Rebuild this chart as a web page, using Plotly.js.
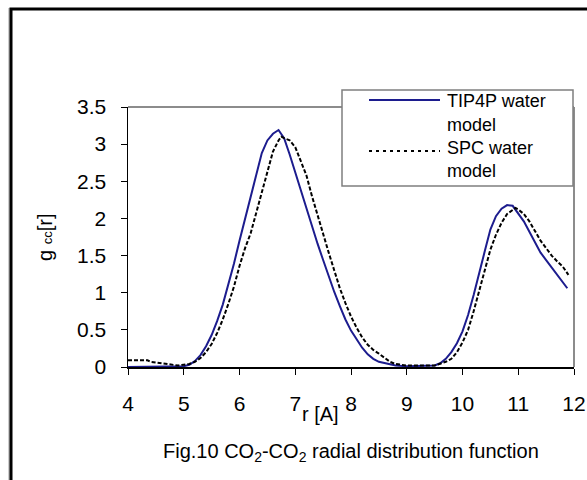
<!DOCTYPE html>
<html>
<head>
<meta charset="utf-8">
<script src="https://cdn.plot.ly/plotly-3.0.1.min.js"></script>
<style>
  html, body { margin: 0; padding: 0; background: #ffffff; }
  #chart { width: 587px; height: 480px; }
</style>
</head>
<body>
<div id="chart"></div>
<script>
// ---- data ----
const seriesNames = ["TIP4P water<br>model", "SPC water<br>model"];

const tip4pR = [4.0, 4.5, 4.9, 5.0, 5.1, 5.2, 5.3, 5.4, 5.5, 5.6, 5.7, 5.8, 5.9, 6.0, 6.1, 6.2, 6.3, 6.4, 6.5, 6.6, 6.7, 6.75, 6.8, 6.9, 7.0, 7.1, 7.2, 7.3, 7.4, 7.5, 7.6, 7.7, 7.8, 7.9, 8.0, 8.1, 8.2, 8.3, 8.4, 8.5, 8.6, 8.7, 8.8, 9.0, 9.2, 9.4, 9.5, 9.6, 9.7, 9.8, 9.9, 10.0, 10.1, 10.2, 10.3, 10.4, 10.5, 10.6, 10.7, 10.8, 10.9, 11.0, 11.1, 11.2, 11.3, 11.4, 11.5, 11.6, 11.7, 11.8, 11.88];
const tip4pG = [0.0, 0.0, 0.0, 0.01, 0.03, 0.08, 0.16, 0.28, 0.43, 0.62, 0.84, 1.10, 1.39, 1.70, 2.00, 2.32, 2.62, 2.88, 3.05, 3.14, 3.19, 3.14, 3.08, 2.86, 2.62, 2.36, 2.14, 1.90, 1.66, 1.44, 1.22, 1.01, 0.82, 0.64, 0.49, 0.37, 0.26, 0.17, 0.11, 0.07, 0.05, 0.04, 0.02, 0.01, 0.01, 0.01, 0.02, 0.05, 0.11, 0.20, 0.32, 0.48, 0.70, 0.97, 1.28, 1.56, 1.85, 2.03, 2.13, 2.18, 2.17, 2.07, 1.96, 1.82, 1.67, 1.54, 1.44, 1.34, 1.24, 1.14, 1.06];

const spcR = [4.0, 4.2, 4.35, 4.4, 4.5, 4.6, 4.7, 4.8, 4.9, 5.0, 5.1, 5.2, 5.3, 5.4, 5.5, 5.6, 5.7, 5.8, 5.9, 6.0, 6.1, 6.2, 6.3, 6.4, 6.5, 6.6, 6.7, 6.75, 6.8, 6.9, 7.0, 7.1, 7.2, 7.3, 7.4, 7.5, 7.6, 7.7, 7.8, 7.9, 8.0, 8.1, 8.2, 8.3, 8.4, 8.5, 8.6, 8.7, 8.8, 9.0, 9.5, 9.6, 9.7, 9.8, 9.9, 10.0, 10.1, 10.2, 10.3, 10.4, 10.5, 10.6, 10.7, 10.8, 10.9, 10.95, 11.0, 11.1, 11.2, 11.3, 11.4, 11.5, 11.6, 11.7, 11.8, 11.9];
const spcG = [0.09, 0.09, 0.09, 0.07, 0.06, 0.05, 0.04, 0.02, 0.02, 0.03, 0.04, 0.07, 0.12, 0.20, 0.31, 0.46, 0.64, 0.85, 1.08, 1.36, 1.60, 1.80, 2.08, 2.36, 2.62, 2.90, 3.05, 3.10, 3.08, 3.05, 2.96, 2.78, 2.58, 2.30, 2.04, 1.80, 1.54, 1.30, 1.06, 0.86, 0.68, 0.53, 0.40, 0.30, 0.23, 0.18, 0.13, 0.07, 0.04, 0.02, 0.02, 0.04, 0.07, 0.11, 0.20, 0.33, 0.50, 0.75, 1.04, 1.31, 1.58, 1.78, 1.94, 2.06, 2.12, 2.14, 2.12, 2.06, 1.96, 1.82, 1.70, 1.60, 1.50, 1.42, 1.35, 1.24];

const xTicks = [4, 5, 6, 7, 8, 9, 10, 11, 12];
const yTicks = [0, 0.5, 1, 1.5, 2, 2.5, 3, 3.5];
const yTickText = ["0", "0.5", "1", "1.5", "2", "2.5", "3", "3.5"];
const legendLines = ["TIP4P water", "model", "SPC water", "model"];
const xTitle = "r [A]";
const yTitle = "g <span style='font-size:13px'>cc</span>[r]";
const caption = "Fig.10 CO<sub>2</sub>-CO<sub>2</sub> radial distribution function";

// ---- layout helpers (pixel -> paper) ----
const W = 587, H = 480;
const M = {l: 128, r: 13, t: 107, b: 113};
const PW = W - M.l - M.r, PH = H - M.t - M.b;
const px = v => (v - M.l) / PW;
const py = v => (H - M.b - v) / PH;

const blue = "#1c1c8e";
const FONT = "Liberation Sans, Arial, sans-serif";

const traces = [
  {x: tip4pR, y: tip4pG, name: seriesNames[0], type: "scatter", mode: "lines",
   line: {color: blue, width: 2}},
  {x: spcR, y: spcG, name: seriesNames[1], type: "scatter", mode: "lines",
   line: {color: "#000000", width: 2, dash: "4px,2px"}}
];

const shapes = [
  // outer frame (only top & left visible in reference)
  {type: "line", xref: "paper", yref: "paper", x0: px(9), x1: px(9), y0: py(700), y1: py(8),
   line: {color: "#9a9a9a", width: 1}, layer: "below"},
  {type: "rect", xref: "paper", yref: "paper", x0: px(11), x1: px(700), y0: py(700), y1: py(9),
   line: {color: "#000000", width: 3}, layer: "below"},
  // plot area border: top & right gray
  {type: "line", xref: "paper", yref: "paper", x0: 0, x1: 1, y0: 1, y1: 1,
   line: {color: "#8c8c8c", width: 2}},
  {type: "line", xref: "paper", yref: "paper", x0: 1, x1: 1, y0: 0, y1: 1,
   line: {color: "#8c8c8c", width: 2}},
  // legend box
  {type: "rect", xref: "paper", yref: "paper", x0: px(342), x1: px(573), y0: py(186), y1: py(90),
   line: {color: "#7f7f7f", width: 1.5}, fillcolor: "#ffffff"},
  // legend samples
  {type: "line", xref: "paper", yref: "paper", x0: px(369), x1: px(440), y0: py(100), y1: py(100),
   line: {color: blue, width: 2}},
  {type: "line", xref: "paper", yref: "paper", x0: px(369), x1: px(440), y0: py(151), y1: py(151),
   line: {color: "#000000", width: 2, dash: "3px,4px"}}
];

const legendY = [101, 125, 148, 171];
const annotations = legendLines.map((t, i) => ({
  xref: "paper", yref: "paper", x: px(445), y: py(legendY[i]), xanchor: "left", yanchor: "middle",
  text: t, showarrow: false, font: {size: 18, color: "#000"}
}));
annotations.push(
  {xref: "paper", yref: "paper", x: px(320), y: py(414), xanchor: "center", yanchor: "middle",
   text: xTitle, showarrow: false, font: {size: 20, color: "#000"}},
  {xref: "paper", yref: "paper", x: px(45), y: py(238), xanchor: "center", yanchor: "middle",
   text: yTitle, textangle: -90, showarrow: false, font: {size: 20, color: "#000"}},
  {xref: "paper", yref: "paper", x: px(351), y: py(452), xanchor: "center", yanchor: "middle",
   text: caption, showarrow: false, font: {size: 20, color: "#000"}}
);

const layout = {
  width: W, height: H,
  margin: M,
  paper_bgcolor: "#ffffff", plot_bgcolor: "#ffffff",
  font: {family: FONT, color: "#000000"},
  showlegend: false,
  xaxis: {
    range: [4, 12], tickvals: xTicks, ticktext: xTicks.map(String),
    showgrid: false, zeroline: false, showline: true, linecolor: "#000", linewidth: 1.5,
    ticks: "outside", ticklen: 6, tickcolor: "#000", tickwidth: 1,
    tickfont: {size: 21, family: FONT, color: "#000"}, ticklabelstandoff: 11
  },
  yaxis: {
    range: [0, 3.5], tickvals: yTicks, ticktext: yTickText,
    showgrid: false, zeroline: false, showline: true, linecolor: "#000", linewidth: 1.5,
    ticks: "outside", ticklen: 6, tickcolor: "#000", tickwidth: 1,
    tickfont: {size: 21, family: FONT, color: "#000"}, ticklabelstandoff: 10
  },
  shapes: shapes,
  annotations: annotations
};

Plotly.newPlot("chart", traces, layout, {staticPlot: true, displayModeBar: false});
</script>
</body>
</html>
